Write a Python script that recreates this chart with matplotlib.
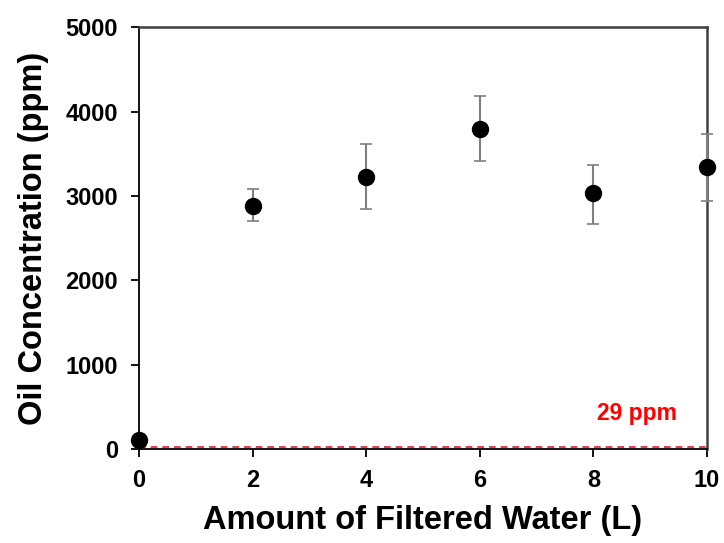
import matplotlib.pyplot as plt

# --- data ---
water = [0, 2, 4, 6, 8, 10]
oil_ppm = [110, 2880, 3225, 3795, 3030, 3340]
err_low = [0, 180, 380, 380, 360, 400]
err_high = [0, 200, 390, 390, 340, 390]
limit_ppm = 29

plt.rcParams["font.family"] = ["Liberation Sans", "DejaVu Sans"]
plt.rcParams["font.weight"] = "bold"

fig = plt.figure(figsize=(7.24, 5.43), dpi=100)
ax = fig.add_axes([0.192, 0.173, 0.7845, 0.777])

# --- limit line ---
ax.axhline(limit_ppm, color="#e02020", linestyle=(0, (4, 3)), linewidth=1.2, zorder=2)
ax.text(8.77, 427, "29 ppm", color="red", fontsize=16.5, fontweight="bold",
        ha="center", va="center")

# --- data with error bars ---
ax.errorbar(water, oil_ppm, yerr=[err_low, err_high], fmt="none",
            ecolor="#7f7f7f", elinewidth=1.5, capsize=4, capthick=1.2,
            zorder=3, clip_on=False)
ax.plot(water, oil_ppm, "o", color="black", markersize=11.5, zorder=4, clip_on=False)

ax.set_xlim(0, 10)
ax.set_ylim(0, 5000)
ax.set_xticks([0, 2, 4, 6, 8, 10])
ax.set_yticks([0, 1000, 2000, 3000, 4000, 5000])

for side in ["left", "bottom"]:
    ax.spines[side].set_color("black")
    ax.spines[side].set_linewidth(1.3)
for side in ["top", "right"]:
    ax.spines[side].set_color("#404040")
    ax.spines[side].set_linewidth(1.8)

ax.tick_params(axis="both", direction="out", length=6, width=1.3, labelsize=17)
ax.tick_params(axis="x", pad=8)
ax.tick_params(axis="y", pad=9)
ax.tick_params(top=False, right=False)

ax.set_xlabel("Amount of Filtered Water (L)", fontsize=23.5, fontweight="bold", labelpad=10)
ax.set_ylabel("Oil Concentration (ppm)", fontsize=23.5, fontweight="bold", labelpad=12)

fig.savefig("out.png", dpi=100)
